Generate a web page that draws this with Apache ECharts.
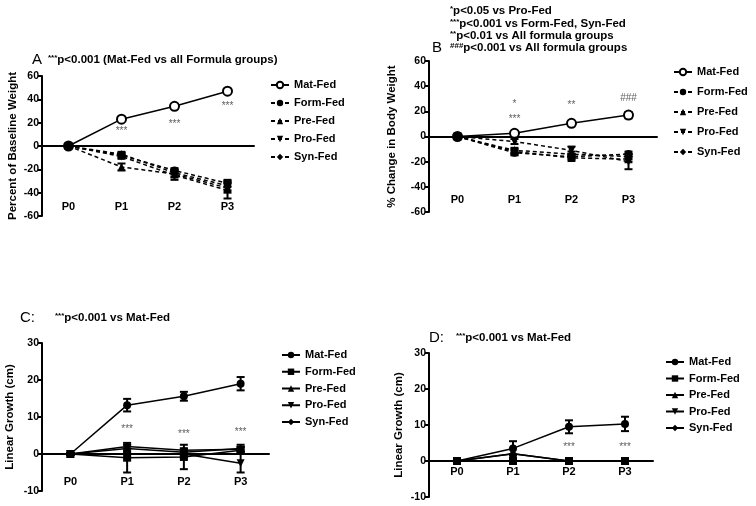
<!DOCTYPE html>
<html>
<head>
<meta charset="utf-8">
<script src="https://cdn.jsdelivr.net/npm/echarts@6/dist/echarts.min.js"></script>
<style>
html,body{margin:0;padding:0;background:#fff;}
#c{width:756px;height:506px;}
</style>
</head>
<body>
<div id="c"></div>
<script>
// ---------- DATA ----------
const categories = ['P0', 'P1', 'P2', 'P3'];
const groups = ['Mat-Fed', 'Form-Fed', 'Pre-Fed', 'Pro-Fed', 'Syn-Fed'];

// Panel A: Percent of Baseline Weight
const aMat  = [0, 23, 34, 47];
const aForm = [0, -8, -21, -32];
const aPre  = [0, -18, -24, -36];
const aPro  = [0, -9, -25, -38];
const aSyn  = [0, -7, -23, -34];
const aMatErr  = [1, 1.5, 2, 1.5];
const aFormErr = [1, 2, 2, 3];
const aPreErr  = [1, 3, 3, 4];
const aProErr  = [1, 2, 4, 7];
const aSynErr  = [1, 2, 3, 4];
const aStars   = [[1, 12.5, '***'], [2, 19, '***'], [3, 34.5, '***']];

// Panel B: % Change in Body Weight
const bMat  = [0, 2.5, 10.5, 17];
const bForm = [0, -13, -16, -14];
const bPre  = [0, -12, -17, -18];
const bPro  = [0, -4, -11, -20];
const bSyn  = [0, -11, -14, -16];
const bMatErr  = [0.5, 1, 1.5, 2.5];
const bFormErr = [0.5, 2, 2, 2];
const bPreErr  = [0.5, 2, 2, 2];
const bProErr  = [0.5, 2, 3, 6];
const bSynErr  = [0.5, 2, 2, 2];
const bStars   = [[1, 26, '*'], [1, 13.5, '***'], [2, 24.5, '**'], [3, 30.5, '###']];

// Panel C: Linear Growth (cm)
const cMat  = [0, 13.2, 15.6, 19];
const cForm = [0, -1, -0.8, 1];
const cPre  = [0, 1.5, 0.5, 1.5];
const cPro  = [0, 0, 0, -2.5];
const cSyn  = [0, 2, 1, 1.3];
const cMatErr  = [0.3, 1.7, 1.2, 1.8];
const cFormErr = [0.3, 4, 3.3, 1];
const cPreErr  = [0.3, 1, 1, 1];
const cProErr  = [0.3, 1, 1, 2.5];
const cSynErr  = [0.3, 0.5, 0.5, 0.5];
const cStars   = [[1, 6.8, '***'], [2, 5.4, '***'], [3, 5.9, '***']];

// Panel D: Linear Growth (cm)
const dMat  = [0, 3.5, 9.5, 10.3];
const dForm = [0, 0, 0, 0];
const dPre  = [0, 2, 0, 0];
const dPro  = [0, 0, 0, 0];
const dSyn  = [0, 2, 0, 0];
const dMatErr  = [0.3, 2, 1.8, 2];
const dFormErr = [0, 0, 0, 0];
const dPreErr  = [0, 0, 0, 0];
const dProErr  = [0, 0, 0, 0];
const dSynErr  = [0, 0, 0, 0];
const dStars   = [[2, 3.9, '***'], [3, 3.9, '***']];

// ---------- CHART ----------
const FONT = 'Liberation Sans, Arial, sans-serif';
const INV_TRI = 'path://M0,0 L10,0 L5,9 Z';
const ZW = '\u200b';

const panels = [
  { means: [aMat, aForm, aPre, aPro, aSyn], errs: [aMatErr, aFormErr, aPreErr, aProErr, aSynErr], stars: aStars,
    grid: { left: 42, top: 76, width: 212, height: 140 }, min: -60, max: 60, interval: 20,
    name: 'Percent of Baseline Weight', nameGap: 23, labelCenter: 207, dashed: true,
    legend: { left: 270, top: 79.5, itemGap: 7 } },
  { means: [bMat, bForm, bPre, bPro, bSyn], errs: [bMatErr, bFormErr, bPreErr, bProErr, bSynErr], stars: bStars,
    grid: { left: 429, top: 61, width: 228, height: 151 }, min: -60, max: 60, interval: 20,
    name: '% Change in Body Weight', nameGap: 31, labelCenter: 200, dashed: true,
    legend: { left: 673, top: 66.5, itemGap: 9 } },
  { means: [cMat, cForm, cPre, cPro, cSyn], errs: [cMatErr, cFormErr, cPreErr, cProErr, cSynErr], stars: cStars,
    grid: { left: 42, top: 343, width: 227, height: 148 }, min: -10, max: 30, interval: 10,
    name: 'Linear Growth (cm)', nameGap: 26, labelCenter: 482, dashed: false,
    legend: { left: 281, top: 349.5, itemGap: 5.75 } },
  { means: [dMat, dForm, dPre, dPro, dSyn], errs: [dMatErr, dFormErr, dPreErr, dProErr, dSynErr], stars: dStars,
    grid: { left: 429, top: 353, width: 224, height: 144 }, min: -10, max: 30, interval: 10,
    name: 'Linear Growth (cm)', nameGap: 24, labelCenter: 472, dashed: false,
    legend: { left: 665, top: 356.5, itemGap: 5.5 } }
];

const symA = ['emptyCircle', 'circle', 'triangle', INV_TRI, 'diamond'];
const symC = ['circle', 'rect', 'triangle', INV_TRI, 'diamond'];

const grids = [], xAxes = [], yAxes = [], series = [], legends = [];

panels.forEach((p, pi) => {
  const suffix = ZW.repeat(pi);
  const bottom = p.grid.top + p.grid.height;
  grids.push(Object.assign({ containLabel: false, outerBoundsMode: 'none' }, p.grid));
  xAxes.push({
    type: 'category', gridIndex: pi, data: categories, boundaryGap: true,
    axisLine: { onZero: true, lineStyle: { color: '#000', width: 2 } },
    axisTick: { alignWithLabel: true, length: 5, lineStyle: { color: '#000', width: 2 } },
    axisLabel: { margin: p.labelCenter - 5.5 - bottom, color: '#000', fontFamily: FONT, fontWeight: 'bold', fontSize: 11 },
    splitLine: { show: false }
  });
  yAxes.push({
    type: 'value', gridIndex: pi, min: p.min, max: p.max, interval: p.interval,
    name: p.name, nameLocation: 'middle', nameGap: p.nameGap, nameRotate: 90,
    nameTextStyle: { color: '#000', fontFamily: FONT, fontWeight: 'bold', fontSize: 11.5 },
    axisLine: { show: true, onZero: false, lineStyle: { color: '#000', width: 2 } },
    axisTick: { show: true, length: 4, lineStyle: { color: '#000', width: 2 } },
    axisLabel: { margin: 3, color: '#000', fontFamily: FONT, fontWeight: 'bold', fontSize: 10.5 },
    splitLine: { show: false }
  });
  groups.forEach((g, gi) => {
    const dashed = p.dashed && gi > 0;
    const sym = p.dashed ? symA[gi] : symC[gi];
    // error bars
    series.push({
      type: 'custom', name: 'err' + pi + '-' + gi, xAxisIndex: pi, yAxisIndex: pi, silent: true, z: 2,
      data: p.means[gi].map((v, i) => [i, v, p.errs[gi][i]]),
      encode: { x: 0, y: 1 },
      renderItem: function (params, api) {
        const i = api.value(0), v = api.value(1), e = api.value(2);
        if (!e) return null;
        const top = api.coord([i, v + e]);
        const bot = api.coord([i, v - e]);
        const st = { stroke: '#000', lineWidth: 2 };
        return { type: 'group', children: [
          { type: 'line', shape: { x1: top[0], y1: top[1], x2: bot[0], y2: bot[1] }, style: st },
          { type: 'line', shape: { x1: top[0] - 4, y1: top[1], x2: top[0] + 4, y2: top[1] }, style: st },
          { type: 'line', shape: { x1: bot[0] - 4, y1: bot[1], x2: bot[0] + 4, y2: bot[1] }, style: st }
        ]};
      }
    });
    series.push({
      type: 'line', name: g + suffix, xAxisIndex: pi, yAxisIndex: pi, z: 3,
      data: p.means[gi], symbol: sym,
      symbolSize: sym === 'emptyCircle' ? 9 : 8,
      showAllSymbol: true,
      itemStyle: { color: '#000', borderColor: '#000', borderWidth: sym === 'emptyCircle' ? 2 : 0 },
      lineStyle: { color: '#000', width: 1.5, type: dashed ? [4, 3] : 'solid' },
      emphasis: { disabled: true },
      animation: false
    });
  });
  // star annotations
  series.push({
    type: 'scatter', name: 'stars' + pi, xAxisIndex: pi, yAxisIndex: pi, symbolSize: 0, silent: true,
    data: p.stars,
    label: { show: true, position: 'inside', formatter: q => q.value[2],
      color: '#333', fontFamily: FONT, fontSize: 10 },
    animation: false
  });
  legends.push({
    orient: 'vertical', left: p.legend.left, top: p.legend.top, itemGap: p.legend.itemGap,
    padding: 0, itemWidth: 18, itemHeight: 8,
    data: groups.map(g => ({ name: g + suffix })),
    formatter: n => n.replace(/\u200b/g, ''),
    textStyle: { color: '#000', fontFamily: FONT, fontWeight: 'bold', fontSize: 11 },
    selectedMode: false
  });
});

const starRich = {
  s: { fontSize: 8, fontWeight: 'bold', color: '#000', fontFamily: FONT, verticalAlign: 'top' },
  b: { fontSize: 11.5, fontWeight: 'bold', color: '#000', fontFamily: FONT }
};
function ttl(left, top, text) {
  return { left: left, top: top, text: text, textStyle: { rich: starRich, fontSize: 11.5 }, padding: 0 };
}
function letter(left, top, text) {
  return { left: left, top: top, text: text, padding: 0,
    textStyle: { fontSize: 15, fontWeight: 'normal', color: '#000', fontFamily: FONT } };
}

const titles = [
  letter(32, 52, 'A'),
  ttl(48, 54, '{s|***}{b|p<0.001 (Mat-Fed vs all Formula groups)}'),
  ttl(450, 5, '{s|*}{b|p<0.05 vs Pro-Fed}'),
  ttl(450, 18, '{s|***}{b|p<0.001 vs Form-Fed, Syn-Fed}'),
  ttl(450, 30, '{s|**}{b|p<0.01 vs All formula groups}'),
  letter(432, 40, 'B'),
  ttl(450, 42, '{s|###}{b|p<0.001 vs All formula groups}'),
  letter(20, 310, 'C:'),
  ttl(55, 312, '{s|***}{b|p<0.001 vs Mat-Fed}'),
  letter(429, 330, 'D:'),
  ttl(456, 332, '{s|***}{b|p<0.001 vs Mat-Fed}')
];

const chart = echarts.init(document.getElementById('c'), null, { renderer: 'canvas' });
chart.setOption({
  backgroundColor: '#fff',
  animation: false,
  textStyle: { fontFamily: FONT },
  title: titles,
  grid: grids,
  xAxis: xAxes,
  yAxis: yAxes,
  legend: legends,
  series: series
});
</script>
</body>
</html>
